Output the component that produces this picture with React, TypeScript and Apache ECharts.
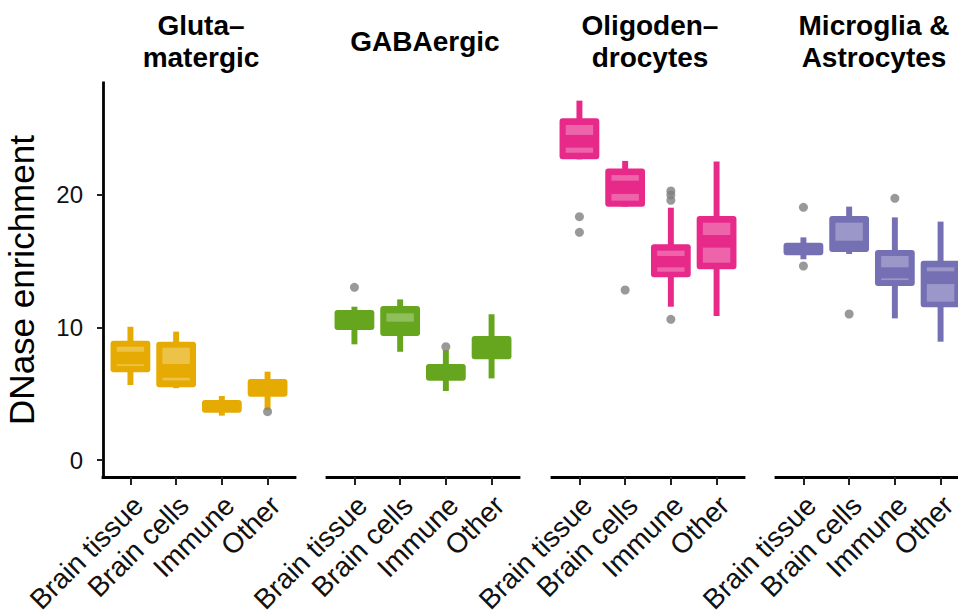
import React, { useEffect, useRef } from 'react';
import * as echarts from 'echarts';

const facetTitles = ['Gluta–\nmatergic', 'GABAergic', 'Oligoden–\ndrocytes', 'Microglia &\nAstrocytes'];
const categories = ['Brain tissue', 'Brain cells', 'Immune', 'Other'];
const facetColors = ['#E6AB02', '#66A61E', '#E7298A', '#7570B3'];
const yTickValues = [0, 10, 20];
const xTickValues = [0, 1, 2, 3];

// per facet, per category
const whiskerLow = [
  [5.66, 5.42, 3.35, 3.77],
  [8.73, 8.17, 5.21, 6.16],
  [22.69, 19.12, 11.57, 10.87],
  [15.15, 15.55, 10.69, 8.93],
];
const boxLow = [
  [6.62, 5.49, 3.57, 4.78],
  [9.81, 9.36, 5.99, 7.6],
  [22.69, 19.12, 13.79, 14.39],
  [15.45, 15.7, 13.13, 11.52],
];
const boxHigh = [
  [9.0, 8.93, 4.53, 6.11],
  [11.32, 11.62, 7.25, 9.36],
  [25.79, 22.0, 16.28, 18.42],
  [16.4, 18.42, 15.85, 15.04],
];
const whiskerHigh = [
  [10.06, 9.69, 4.83, 6.67],
  [11.57, 12.12, 8.3, 11.0],
  [27.12, 22.57, 19.04, 22.52],
  [16.8, 19.12, 18.31, 17.99],
];
const innerUpperLow = [
  [8.18, 7.25, null, null],
  [null, 10.44, null, null],
  [24.53, 21.08, 15.4, 16.98],
  [null, 16.55, 14.54, 14.24],
];
const innerUpperHigh = [
  [8.55, 8.48, null, null],
  [null, 11.07, null, null],
  [25.28, 21.5, 15.8, 17.91],
  [null, 17.91, 15.4, 14.54],
];
const innerLowerLow = [
  [7.09, 6.01, null, null],
  [null, null, null, null],
  [23.19, 19.57, 14.21, 14.89],
  [null, null, 13.58, 11.95],
];
const innerLowerHigh = [
  [7.22, 6.21, null, null],
  [null, null, null, null],
  [23.57, 20.08, 14.54, 16.03],
  [null, null, 13.71, 13.28],
];
const outlierPoints = [
  [[3, 3.65]],
  [[0, 13.03], [2, 8.55]],
  [[0, 18.36], [0, 17.18], [1, 12.83], [2, 20.3], [2, 20.0], [2, 19.6], [2, 10.62]],
  [[0, 19.07], [0, 14.64], [1, 11.02], [2, 19.75]],
];

const FONT = '"Liberation Sans", Arial, Helvetica, sans-serif';
const gridLefts = [103, 327, 552, 776];
const GRID_W = 192;
const GRID_TOP = 83;
const GRID_H = 394;
const Y_MIN = -1.28;
const Y_MAX = 28.45;

export default function App() {
  const ref = useRef<HTMLDivElement>(null);
  useEffect(() => {
    if (!ref.current) return;
    const chart = echarts.init(ref.current, null, { renderer: 'svg' });

    const grids = gridLefts.map((l) => ({
      left: l,
      top: GRID_TOP,
      width: GRID_W,
      height: GRID_H,
      containLabel: false,
      outerBoundsMode: 'none',
    }));

    const xAxes = gridLefts.map((_, i) => ({
      type: 'value',
      gridIndex: i,
      min: -0.6,
      max: 3.6,
      axisLine: { show: true, onZero: false, lineStyle: { color: '#000', width: 2.8, cap: 'square' } },
      axisTick: { show: true, customValues: xTickValues, length: 8, lineStyle: { color: '#222', width: 2 } },
      axisLabel: {
        show: true,
        customValues: xTickValues,
        formatter: (v: number) => categories[Math.round(v)] ?? '',
        rotate: 45,
        fontSize: 28,
        fontFamily: FONT,
        color: '#111',
        margin: 16,
        verticalAlign: 'top',
        lineHeight: 22,
      },
      splitLine: { show: false },
    }));

    const yAxes = gridLefts.map((_, i) => ({
      type: 'value',
      gridIndex: i,
      min: Y_MIN,
      max: Y_MAX,
      show: i === 0,
      name: i === 0 ? 'DNase enrichment' : '',
      nameLocation: 'middle',
      nameGap: 64,
      nameTextStyle: { fontSize: 35, fontFamily: FONT, color: '#000' },
      axisLine: { show: true, onZero: false, lineStyle: { color: '#000', width: 2.8, cap: 'square' } },
      axisTick: { show: true, customValues: yTickValues, length: 6, lineStyle: { color: '#222', width: 2 } },
      axisLabel: { show: true, customValues: yTickValues, fontSize: 24, fontFamily: FONT, color: '#111', margin: 20 },
      splitLine: { show: false },
    }));

    const series: any[] = [];
    gridLefts.forEach((_, fi) => {
      const color = facetColors[fi];
      series.push({
        type: 'custom',
        xAxisIndex: fi,
        yAxisIndex: fi,
        clip: false,
        data: categories.map((_, ci) => [ci, whiskerLow[fi][ci], whiskerHigh[fi][ci]]),
        encode: { x: 0, y: [1, 2] },
        renderItem: (params: any, api: any) => {
          const ci = params.dataIndex;
          const cx = api.coord([ci, 0])[0];
          const yp = (v: number) => api.coord([ci, v])[1];
          const boxW = api.size([0.87, 0])[0];
          const innerW = api.size([0.6, 0])[0];
          const whiskW = api.size([0.13, 0])[0];
          const children: any[] = [];
          const wt = yp(whiskerHigh[fi][ci]);
          const wb = yp(whiskerLow[fi][ci]);
          children.push({
            type: 'rect',
            shape: { x: cx - whiskW / 2, y: wt, width: whiskW, height: wb - wt },
            style: { fill: color },
          });
          const bt = yp(boxHigh[fi][ci]);
          const bb = yp(boxLow[fi][ci]);
          children.push({
            type: 'rect',
            shape: { x: cx - boxW / 2, y: bt, width: boxW, height: bb - bt, r: 3 },
            style: { fill: color },
          });
          const bands: [number | null, number | null][] = [
            [innerUpperLow[fi][ci], innerUpperHigh[fi][ci]],
            [innerLowerLow[fi][ci], innerLowerHigh[fi][ci]],
          ];
          bands.forEach(([lo, hi]) => {
            if (lo == null || hi == null) return;
            const t = yp(hi);
            const b = yp(lo);
            children.push({
              type: 'rect',
              shape: { x: cx - innerW / 2, y: t, width: innerW, height: Math.max(1.5, b - t) },
              style: { fill: 'rgba(255,255,255,0.28)' },
            });
          });
          return { type: 'group', children };
        },
      });
      series.push({
        type: 'scatter',
        xAxisIndex: fi,
        yAxisIndex: fi,
        data: outlierPoints[fi],
        symbol: 'circle',
        symbolSize: 9,
        itemStyle: { color: '#7F7F7F' },
        z: 5,
      });
    });

    const graphic = facetTitles.map((t, i) => ({
      type: 'text',
      x: gridLefts[i] + GRID_W / 2 + 2,
      y: 41,
      style: {
        text: t,
        fill: '#000',
        font: `bold 28px ${FONT}`,
        textAlign: 'center',
        textVerticalAlign: 'middle',
        align: 'center',
        verticalAlign: 'middle',
        lineHeight: 32,
      },
    }));

    chart.setOption({
      animation: false,
      backgroundColor: '#fff',
      grid: grids,
      xAxis: xAxes,
      yAxis: yAxes,
      series,
      graphic,
    });
    return () => chart.dispose();
  }, []);
  return <div ref={ref} style={{ position: 'fixed', left: 0, top: 0, width: 958, height: 614 }} />;
}
